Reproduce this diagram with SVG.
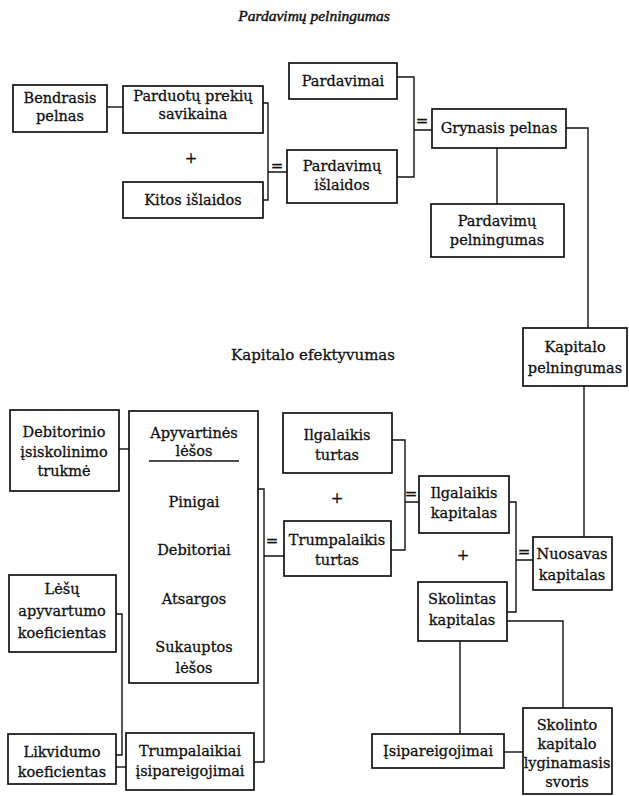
<svg xmlns="http://www.w3.org/2000/svg" width="629" height="796" viewBox="0 0 629 796">
<style>
  .box { fill: #ffffff; stroke: #111111; stroke-width: 1.7; }
  .con { fill: none; stroke: #111111; stroke-width: 1.4; }
  text { font-family: "DejaVu Serif", "Liberation Serif", serif; font-size: 14.5px; fill: #111111; text-anchor: middle; stroke: #111111; stroke-width: 0.3; }
  .title { font-family: "Liberation Serif", "DejaVu Serif", serif; font-style: italic; font-size: 15.5px; stroke-width: 0.45; }
  .sub { font-size: 15px; }
  .op { font-size: 15px; }
</style>
<rect x="0" y="0" width="629" height="796" fill="#ffffff"/>

<text class="title" x="314" y="21">Pardavimų pelningumas</text>
<text class="sub" x="313" y="360">Kapitalo efektyvumas</text>

<g id="connectors">
  <path class="con" d="M107,107 H123"/>
  <path class="con" d="M263,103 H268 V200 H263 M268,172 H287"/>
  <path class="con" d="M397,77 H414 V177 H397 M414,130 H432"/>
  <path class="con" d="M497,148 V204"/>
  <path class="con" d="M566,128 H588 V328"/>
  <path class="con" d="M584,386 V537"/>
  <path class="con" d="M119,449 H129"/>
  <path class="con" d="M258,489 H264 V762 H254 M264,556 H284"/>
  <path class="con" d="M116,614 H122 V755 H116"/>
  <path class="con" d="M116,767 H126"/>
  <path class="con" d="M392,440 H405 V550 H391 M405,502 H419"/>
  <path class="con" d="M509,502 H516 V612 H507 M516,560 H533"/>
  <path class="con" d="M507,621 H563 V708"/>
  <path class="con" d="M460,641 V734"/>
  <path class="con" d="M504,752 H523"/>
  <text class="op" x="277" y="171">=</text>
  <text class="op" x="422" y="126">=</text>
  <text class="op" x="272" y="546">=</text>
  <text class="op" x="411" y="499">=</text>
  <text class="op" x="524" y="557">=</text>
  <text class="op" x="191" y="163">+</text>
  <text class="op" x="337" y="503">+</text>
  <text class="op" x="463" y="560">+</text>
</g>

<g id="bendrasis-pelnas">
  <rect class="box" x="13" y="85" width="94" height="47"/>
  <text x="60" y="103">Bendrasis</text>
  <text x="60" y="121">pelnas</text>
</g>
<g id="parduotu-prekiu-savikaina">
  <rect class="box" x="123" y="86" width="140" height="47"/>
  <text x="193" y="101">Parduotų prekių</text>
  <text x="193" y="119">savikaina</text>
</g>
<g id="kitos-islaidos">
  <rect class="box" x="123" y="182" width="140" height="36"/>
  <text x="193" y="205">Kitos išlaidos</text>
</g>
<g id="pardavimai">
  <rect class="box" x="289" y="63" width="108" height="36"/>
  <text x="343" y="86">Pardavimai</text>
</g>
<g id="pardavimu-islaidos">
  <rect class="box" x="287" y="150" width="110" height="53"/>
  <text x="342" y="171">Pardavimų</text>
  <text x="342" y="190">išlaidos</text>
</g>
<g id="grynasis-pelnas">
  <rect class="box" x="432" y="109" width="134" height="39"/>
  <text x="499" y="133">Grynasis pelnas</text>
</g>
<g id="pardavimu-pelningumas">
  <rect class="box" x="431" y="204" width="133" height="53"/>
  <text x="497" y="226">Pardavimų</text>
  <text x="497" y="245">pelningumas</text>
</g>
<g id="kapitalo-pelningumas">
  <rect class="box" x="523" y="328" width="104" height="58"/>
  <text x="575" y="352">Kapitalo</text>
  <text x="575" y="373">pelningumas</text>
</g>
<g id="nuosavas-kapitalas">
  <rect class="box" x="533" y="537" width="79" height="53"/>
  <text x="572" y="559">Nuosavas</text>
  <text x="572" y="580">kapitalas</text>
</g>
<g id="ilgalaikis-turtas">
  <rect class="box" x="283" y="413" width="109" height="60"/>
  <text x="337" y="440">Ilgalaikis</text>
  <text x="337" y="460">turtas</text>
</g>
<g id="trumpalaikis-turtas">
  <rect class="box" x="284" y="521" width="107" height="55"/>
  <text x="337" y="545">Trumpalaikis</text>
  <text x="337" y="565">turtas</text>
</g>
<g id="ilgalaikis-kapitalas">
  <rect class="box" x="419" y="476" width="90" height="57"/>
  <text x="464" y="498">Ilgalaikis</text>
  <text x="464" y="518">kapitalas</text>
</g>
<g id="skolintas-kapitalas">
  <rect class="box" x="418" y="582" width="89" height="59"/>
  <text x="462" y="604">Skolintas</text>
  <text x="462" y="625">kapitalas</text>
</g>
<g id="isipareigojimai">
  <rect class="box" x="372" y="734" width="132" height="34"/>
  <text x="438" y="756">Įsipareigojimai</text>
</g>
<g id="skolinto-kapitalo-lyginamasis-svoris">
  <rect class="box" x="523" y="708" width="89" height="86"/>
  <text x="567" y="730">Skolinto</text>
  <text x="567" y="749">kapitalo</text>
  <text x="567" y="768">lyginamasis</text>
  <text x="567" y="787">svoris</text>
</g>
<g id="debitorinio-isiskolinimo-trukme">
  <rect class="box" x="10" y="410" width="109" height="81"/>
  <text x="64" y="437">Debitorinio</text>
  <text x="64" y="457">įsiskolinimo</text>
  <text x="64" y="476">trukmė</text>
</g>
<g id="apyvartines-lesos">
  <rect class="box" x="129" y="411" width="129" height="272"/>
  <text x="194" y="438">Apyvartinės</text>
  <text x="194" y="456">lėšos</text>
  <line x1="149" y1="461" x2="239" y2="461" stroke="#111111" stroke-width="1.4"/>
  <text x="194" y="507">Pinigai</text>
  <text x="194" y="555">Debitoriai</text>
  <text x="194" y="604">Atsargos</text>
  <text x="194" y="652">Sukauptos</text>
  <text x="194" y="673">lėšos</text>
</g>
<g id="lesu-apyvartumo-koeficientas">
  <rect class="box" x="9" y="575" width="107" height="77"/>
  <text x="62" y="594">Lėšų</text>
  <text x="62" y="616">apyvartumo</text>
  <text x="62" y="638">koeficientas</text>
</g>
<g id="likvidumo-koeficientas">
  <rect class="box" x="8" y="734" width="108" height="50"/>
  <text x="62" y="757">Likvidumo</text>
  <text x="62" y="777">koeficientas</text>
</g>
<g id="trumpalaikiai-isipareigojimai">
  <rect class="box" x="126" y="733" width="128" height="57"/>
  <text x="190" y="756">Trumpalaikiai</text>
  <text x="190" y="776">įsipareigojimai</text>
</g>
</svg>
